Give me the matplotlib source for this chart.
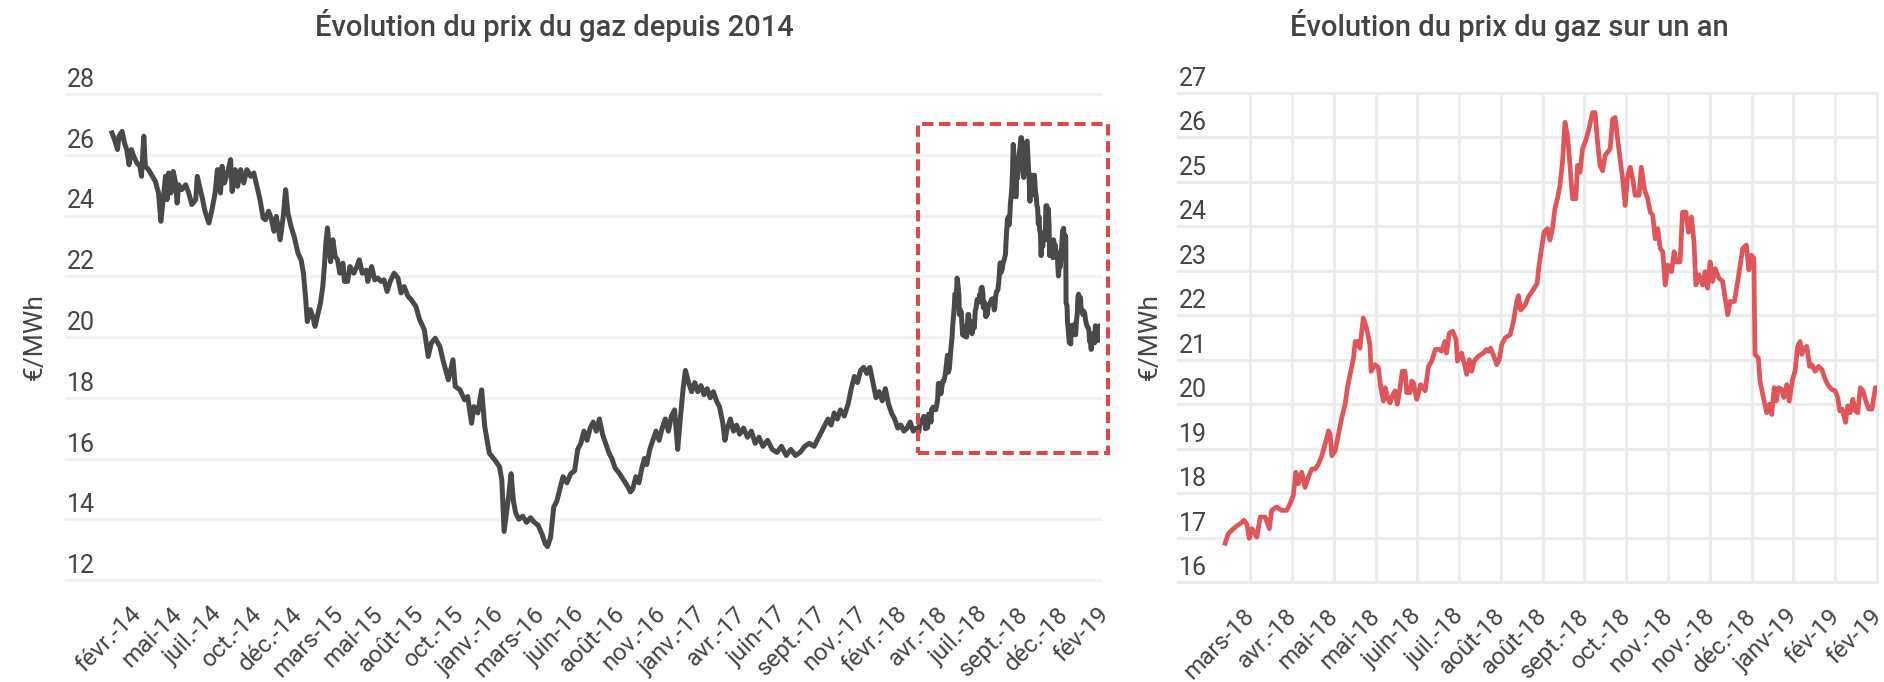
import matplotlib
matplotlib.use("Agg")
import matplotlib.pyplot as plt
import matplotlib.transforms as mtransforms
from matplotlib.patches import Rectangle

plt.rcParams['font.family'] = ['Roboto', 'DejaVu Sans']

# ---------------- DATA ----------------
title_left = "Évolution du prix du gaz depuis 2014"
title_right = "Évolution du prix du gaz sur un an"
unit_label = "€/MWh"

# one-year series (business-day index from early March 2018)
right_day = [0, 1.2, 3, 4.4, 5.4, 6.8, 7.8, 8.7, 9.6, 11.4, 12.6, 14.4, 15.9, 16.7, 18.5, 20.3, 22.1, 23.3, 24.5,
             25.4, 26.3, 27.5, 28.7, 29.9, 31.1, 32.3, 33.5, 34.7, 35.9, 37.1, 37.7, 38.3, 39.5, 40.7, 41.9, 43.1,
             43.9, 44.9, 46.1, 46.7, 47.8, 48.4, 49.6, 50.8, 52.0, 52.4, 53.8, 55.0, 55.9, 56.8, 57.5, 58.3, 59.2,
             60.0, 61.0, 61.8, 62.8, 63.6, 64.6, 65.2, 66.4, 67.0, 67.6, 68.8, 70.2, 71.8, 73.0, 74.2, 75.4, 76.9,
             77.7, 78.9, 79.5, 80.5, 81.7, 82.9, 83.4, 84.9, 86.1, 86.7, 87.7, 88.5, 89.4, 90.9, 92.7, 93.9, 94.6,
             95.3, 96.3, 97.5, 98.4, 99.3, 100.5, 102.3, 103.5, 104.7, 105.3, 106.1, 107.7, 108.9, 110.6, 112.0,
             112.7, 114.5, 115.7, 116.6, 117.5, 118.4, 119.3, 120.2, 121.1, 122.0, 122.9, 123.8, 124.7, 125.9,
             126.5, 127.4, 128.3, 129.6, 130.6, 131.9, 132.8, 133.7, 134.6, 135.5, 136.4, 137.3, 138.2, 139.1,
             140.0, 140.9, 141.8, 142.7, 143.6, 144.5, 145.4, 146.3, 147.2, 148.6, 149.4, 150.5, 151.7, 152.6,
             153.5, 154.4, 155.3, 156.2, 157.1, 158.0, 158.9, 160.2, 161.2, 161.9, 163.3, 164.2, 165.4, 166.3,
             167.4, 168.3, 169.0, 170.1, 171.4, 172.3, 173.2, 174.1, 175.0, 175.9, 177.3, 178.6, 179.5, 180.4,
             181.3, 182.8, 184.0, 185.8, 187.1, 188.0, 188.9, 189.8, 190.2, 191.4, 192.0, 193.2, 194.4, 195.4,
             196.2, 197.1, 197.8, 198.6, 199.8, 200.6, 201.6, 202.5, 203.8, 204.6, 205.5, 206.4, 207.0, 207.9,
             208.8, 209.8, 210.6, 211.8, 213.0, 214.2, 215.4, 216.6, 217.8, 219.0, 219.9, 220.6, 221.5, 222.7,
             223.5, 224.4, 225.3, 226.2, 227.1, 228.0, 229.0, 229.8, 231.0, 232.2, 233.4, 234.0]
right_price = [16.87, 17.09, 17.20, 17.27, 17.31, 17.39, 17.30, 16.98, 17.20, 17.01, 17.46, 17.46, 17.20, 17.61,
               17.69, 17.61, 17.61, 17.76, 17.95, 18.47, 18.21, 18.47, 18.13, 18.36, 18.54, 18.54, 18.65, 18.84,
               19.10, 19.40, 19.33, 18.84, 18.95, 19.33, 19.70, 20.00, 20.37, 20.67, 21.04, 21.41, 21.41, 21.26,
               21.94, 21.71, 21.34, 20.74, 20.89, 20.82, 20.37, 20.07, 20.37, 20.15, 20.03, 20.18, 20.30, 20.00,
               20.37, 20.74, 20.74, 20.26, 20.26, 20.52, 20.48, 20.11, 20.44, 20.30, 20.85, 20.97, 21.23, 21.23,
               21.19, 21.41, 21.15, 21.60, 21.64, 21.45, 20.97, 21.15, 20.85, 20.67, 21.00, 20.74, 20.97, 21.08,
               21.15, 21.23, 21.19, 21.26, 21.11, 20.89, 21.00, 21.34, 21.49, 21.56, 21.86, 22.31, 22.44, 22.12,
               22.23, 22.42, 22.57, 22.72, 23.13, 23.87, 23.95, 23.69, 23.95, 24.40, 24.62, 24.92, 25.44, 26.34,
               26.04, 25.37, 24.62, 24.62, 25.37, 25.22, 25.74, 25.96, 26.19, 26.56, 26.56, 25.89, 25.37, 25.25,
               25.59, 25.67, 25.74, 26.41, 26.45, 25.96, 25.52, 25.07, 24.47, 25.14, 25.33, 25.07, 24.70, 24.70,
               25.33, 24.84, 24.62, 24.32, 24.25, 23.72, 23.95, 23.50, 23.43, 22.68, 23.13, 22.98, 23.43, 23.20,
               23.20, 24.32, 24.32, 23.87, 24.21, 23.65, 22.68, 22.91, 22.68, 22.98, 22.61, 23.20, 22.76, 23.05,
               22.83, 22.76, 22.38, 22.01, 22.31, 22.31, 22.76, 23.50, 23.58, 23.02, 23.35, 23.28, 21.12, 21.04,
               20.52, 20.15, 19.81, 20.00, 19.77, 20.37, 20.07, 20.37, 20.33, 20.15, 20.44, 20.07, 20.59, 20.74,
               21.30, 21.41, 21.12, 21.26, 21.30, 20.85, 20.89, 20.74, 20.85, 20.78, 20.56, 20.41, 20.33, 20.30,
               20.15, 19.85, 19.89, 19.59, 19.96, 19.81, 20.11, 19.85, 19.81, 20.37, 20.30, 20.11, 19.89, 19.89,
               20.37, 20.37]

# five-year series (business-day index from early January 2014), up to the start of the one-year window
hist_day = [0, 4, 7, 9, 13, 16, 19, 22, 25, 28, 32, 36, 38, 41, 43, 47, 51, 56, 60, 63, 66, 69, 71, 73, 76, 79,
            82, 84, 86, 90, 95, 99, 103, 108, 110, 113, 116, 120, 125, 129, 133, 136, 140, 142, 145, 149, 153,
            155, 159, 162, 166, 170, 174, 179, 183, 187, 191, 195, 198, 202, 206, 209, 212, 217, 221, 224, 227,
            231, 235, 240, 244, 247, 250, 252, 256, 259, 262, 265, 269, 272, 274, 276, 278, 282, 285, 288, 291,
            294, 298, 300, 304, 307, 312, 316, 319, 323, 328, 330, 335, 339, 343, 347, 351, 355, 359, 364, 369,
            373, 377, 382, 386, 392, 397, 403, 408, 412, 417, 423, 427, 434, 438, 440, 443, 449, 455, 459, 464,
            467, 472, 477, 481, 487, 494, 500, 503, 506, 509, 512, 515, 518, 521, 525, 530, 535, 540, 545, 550,
            555, 559, 562, 566, 570, 574, 578, 582, 587, 592, 597, 601, 605, 609, 613, 617, 621, 625, 629, 633,
            637, 641, 645, 649, 655, 660, 665, 669, 672, 676, 680, 683, 687, 690, 694, 698, 702, 706, 710, 714,
            718, 722, 726, 730, 733, 737, 740, 744, 748, 752, 756, 760, 764, 768, 772, 776, 780, 784, 788, 791,
            794, 798, 802, 806, 810, 815, 820, 825, 830, 835, 840, 846, 852, 858, 864, 870, 876, 882, 888, 894,
            900, 906, 912, 918, 924, 928, 932, 936, 940, 945, 950, 954, 958, 962, 966, 970, 974, 978, 982, 986,
            990, 994, 998, 1002, 1006, 1010, 1014, 1018, 1022, 1026, 1030, 1034, 1038]
hist_price = [26.72, 26.44, 26.17, 26.61, 26.77, 26.39, 26.17, 25.67, 26.17, 25.95, 25.73, 25.62, 25.29, 26.61,
              25.62, 25.51, 25.34, 25.12, 24.74, 23.81, 24.52, 25.29, 24.52, 25.40, 24.74, 25.45, 25.07, 24.41,
              25.01, 24.85, 25.01, 24.74, 24.36, 24.52, 25.29, 24.96, 24.63, 24.14, 23.75, 24.19, 24.74, 25.51,
              24.74, 25.62, 25.07, 25.40, 25.84, 24.79, 25.51, 24.96, 25.51, 25.07, 25.51, 25.29, 25.40, 24.96,
              24.52, 23.92, 23.86, 24.14, 23.86, 23.48, 23.97, 23.20, 23.97, 24.85, 24.08, 23.64, 23.31, 22.76,
              22.54, 22.10, 21.23, 20.51, 20.90, 20.68, 20.35, 20.68, 21.12, 21.66, 22.32, 23.09, 23.59, 22.48,
              23.20, 22.65, 22.54, 22.10, 22.43, 21.83, 21.83, 22.32, 22.10, 22.32, 22.54, 22.10, 22.20, 21.83,
              22.32, 21.88, 21.94, 21.83, 21.88, 21.50, 21.83, 22.10, 21.94, 21.45, 21.66, 21.34, 21.23, 21.01,
              20.57, 20.24, 19.36, 19.80, 19.96, 19.69, 19.25, 18.59, 19.03, 19.25, 18.37, 18.26, 17.93, 18.04,
              17.16, 17.71, 17.50, 18.26, 17.05, 16.17, 15.95, 15.73, 15.30, 13.60, 14.20, 14.80, 15.50, 14.60,
              14.20, 14.00, 14.10, 13.90, 14.05, 13.90, 13.80, 13.50, 13.20, 13.10, 13.40, 14.40, 14.60, 15.00,
              15.40, 15.20, 15.50, 15.60, 16.30, 16.50, 16.90, 16.60, 17.00, 17.20, 16.90, 17.30, 16.80, 16.50,
              16.20, 16.00, 15.70, 15.50, 15.30, 15.10, 14.90, 15.00, 15.40, 15.20, 15.60, 16.00, 15.80, 16.30,
              16.60, 16.90, 16.60, 17.00, 17.30, 16.90, 17.40, 17.60, 16.30, 17.20, 18.30, 18.90, 18.50, 18.20,
              18.50, 18.20, 18.40, 18.10, 18.30, 18.00, 18.20, 17.90, 17.70, 17.20, 16.60, 17.00, 17.30, 16.90,
              17.10, 16.80, 17.00, 16.70, 16.90, 16.50, 16.70, 16.40, 16.60, 16.30, 16.20, 16.40, 16.10, 16.30,
              16.10, 16.20, 16.40, 16.50, 16.40, 16.70, 17.00, 17.30, 17.10, 17.50, 17.30, 17.60, 17.40, 17.80,
              18.30, 18.70, 18.50, 18.90, 19.00, 18.80, 19.00, 18.50, 18.00, 18.20, 17.90, 18.30, 17.80, 17.50,
              17.30, 17.00, 17.10, 16.90, 17.00, 17.20, 16.90, 17.00]

window_start_day = 1041          # where the one-year window begins in the five-year series
left_day = hist_day + [window_start_day + d for d in right_day]
left_price = hist_price + right_price

left_tick_labels = ['févr.-14', 'mai-14', 'juil.-14', 'oct.-14', 'déc.-14', 'mars-15', 'mai-15', 'août-15',
                    'oct.-15', 'janv.-16', 'mars-16', 'juin-16', 'août-16', 'nov.-16', 'janv.-17', 'avr.-17',
                    'juin-17', 'sept.-17', 'nov.-17', 'févr.-18', 'avr.-18', 'juil.-18', 'sept.-18', 'déc.-18',
                    'fév-19']
right_tick_labels = ['mars-18', 'avr.-18', 'mai-18', 'mai-18', 'juin-18', 'juil.-18', 'août-18', 'août-18',
                     'sept.-18', 'oct.-18', 'nov.-18', 'nov.-18', 'déc.-18', 'janv-19', 'fév-19', 'fév-19']
left_yticks = list(range(12, 29, 2))
right_yticks = list(range(16, 28))
box_y = (16.18, 27.02)

# ---------------- STYLE / LAYOUT ----------------
W, H = 1884, 682
TXT = '#444444'
GRID_L = '#f2f2f2'
GRID_R = '#ececec'
DARK = '#494949'
RED = '#e0555a'
BOXRED = '#e0464c'

fig = plt.figure(figsize=(W / 100, H / 100), dpi=100)
fig.patch.set_facecolor('white')


def px_axes(l, t, r, b):
    return fig.add_axes([l / W, 1 - b / H, (r - l) / W, (b - t) / H])


def style_axes(ax, yticks, grid_color, tick_pos, tick_labels, label_shift_px):
    for s in ax.spines.values():
        s.set_visible(False)
    ax.set_yticks([])
    for v in yticks:
        ax.axhline(v, color=grid_color, lw=2.2, zorder=0, clip_on=False)
        tr = mtransforms.offset_copy(ax.get_yaxis_transform(), fig=fig, x=1, y=7, units='dots')
        ax.text(0, v, str(v), transform=tr, ha='left', va='baseline', fontsize=18, color=TXT)
    ax.set_xticks(tick_pos)
    ax.set_xticklabels(tick_labels, rotation=45, ha='right', va='center', rotation_mode='anchor',
                       fontsize=17.5, color=TXT)
    ax.tick_params(axis='x', length=0, pad=22)
    shift = mtransforms.ScaledTranslation(label_shift_px / 100, 0, fig.dpi_scale_trans)
    for lab in ax.get_xticklabels():
        lab.set_transform(lab.get_transform() + shift)


# Left chart
ax1 = px_axes(66, 94, 1100, 580)
n_left_last = window_start_day + right_day[-1]
ax1.set_xlim(-59.4, n_left_last)
ax1.set_ylim(12, 28)
left_ticks = [27 + 52 * k for k in range(len(left_tick_labels))]
style_axes(ax1, left_yticks, GRID_L, left_ticks, left_tick_labels, 5)
ax1.plot(left_day, left_price, color=DARK, lw=3.6, zorder=3)
ax1.add_patch(Rectangle((window_start_day - 1, box_y[0]), 245, box_y[1] - box_y[0], fill=False,
                        edgecolor=BOXRED, lw=2.9, linestyle=(0, (2.8, 1.4)), clip_on=False, zorder=4))

# Right chart
ax2 = px_axes(1178, 93, 1877, 582)
ax2.set_xlim(-16.9, right_day[-1])
ax2.set_ylim(16, 27)
right_ticks = [9 + 15 * k for k in range(len(right_tick_labels))]
style_axes(ax2, right_yticks, GRID_R, right_ticks, right_tick_labels, 1)
for t in right_ticks:
    ax2.axvline(t, color=GRID_R, lw=2.2, zorder=0, clip_on=False)
ax2.plot(right_day, right_price, color=RED, lw=3.4, zorder=3)

# Titles and axis labels
fig.text(554 / W, 1 - 26 / H, title_left, ha='center', va='center', fontsize=21, color=TXT, fontweight='medium')
fig.text(1509 / W, 1 - 26 / H, title_right, ha='center', va='center', fontsize=21, color=TXT, fontweight='medium')
fig.text(35 / W, 1 - 337 / H, unit_label, rotation=90, ha='center', va='center', fontsize=19, color=TXT)
fig.text(1150 / W, 1 - 337 / H, unit_label, rotation=90, ha='center', va='center', fontsize=19, color=TXT)

fig.savefig('out.png', dpi=100, facecolor='white')
